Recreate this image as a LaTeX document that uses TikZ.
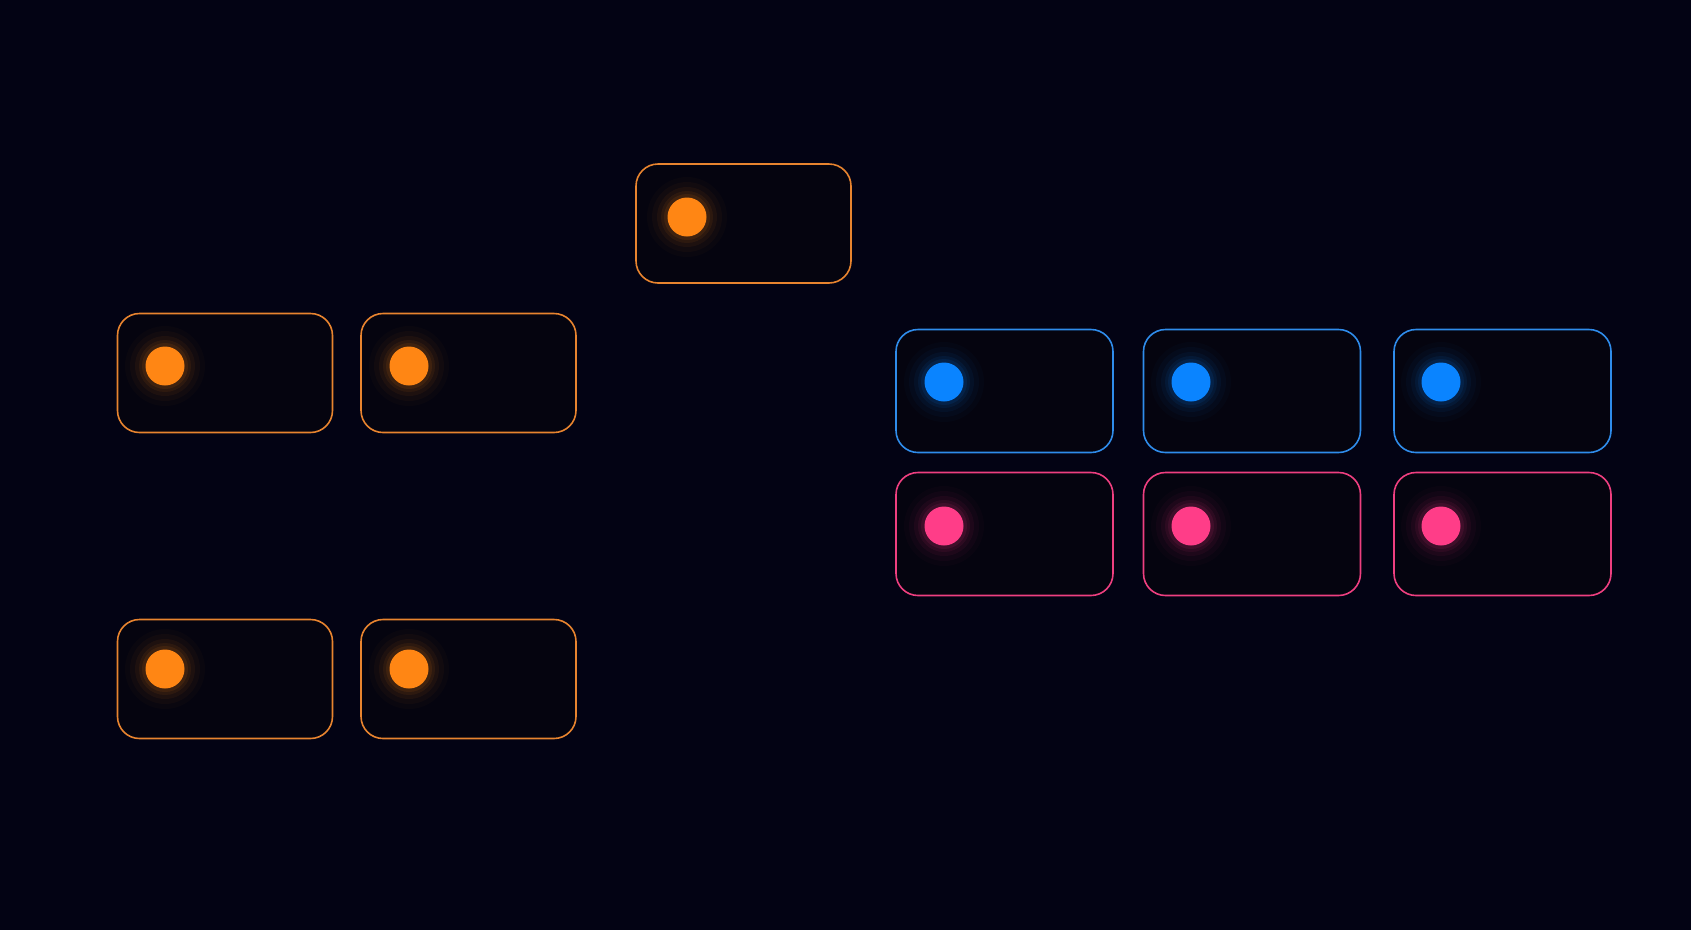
\documentclass[tikz,border=0pt]{standalone}
\begin{document}
\begin{tikzpicture}[x=1pt,y=-1pt]
\definecolor{bg}{HTML}{030314}
\definecolor{boxfill}{HTML}{05040F}
\definecolor{orEdge}{HTML}{E8842F}
\definecolor{orDot}{HTML}{FF8614}
\definecolor{blEdge}{HTML}{2F8CEB}
\definecolor{blDot}{HTML}{0A84FF}
\definecolor{pkEdge}{HTML}{EE3F80}
\definecolor{pkDot}{HTML}{FF3D88}
\tikzset{
  card/.style={draw=#1, line width=1.6pt, fill=boxfill, rounded corners=22pt, inner sep=0pt},
  orcard/.style={card=orEdge, minimum width=215pt, minimum height=119pt},
  rowcard/.style={card=#1, minimum width=217pt, minimum height=123pt},
  dotnode/.style={circle, fill=#1, minimum size=39pt, inner sep=0pt},
}
\newcommand{\glowdot}[3]{%
  \foreach \r/\o in {40/0.025,35/0.035,30/0.05,26/0.07,23/0.09}{
    \fill[#1, opacity=\o] (#3) circle (\r pt);
  }
  \node[dotnode=#1] (#2) at (#3) {};
}
\fill[bg] (0,0) rectangle (1691,930);
\useasboundingbox (0,0) rectangle (1691,930);

% orange cards
\node[orcard] (top) at (743.5,223.5) {};
\node[orcard] (l1) at (225,373) {};
\node[orcard] (l2) at (468.5,373) {};
\node[orcard] (l3) at (225,679) {};
\node[orcard] (l4) at (468.5,679) {};
% blue cards
\node[rowcard=blEdge] (b1) at (1004.5,391) {};
\node[rowcard=blEdge] (b2) at (1252,391) {};
\node[rowcard=blEdge] (b3) at (1502.5,391) {};
% pink cards
\node[rowcard=pkEdge] (p1) at (1004.5,534) {};
\node[rowcard=pkEdge] (p2) at (1252,534) {};
\node[rowcard=pkEdge] (p3) at (1502.5,534) {};

% dots
\glowdot{orDot}{dtop}{687,217}
\glowdot{orDot}{dl1}{165,366}
\glowdot{orDot}{dl2}{409,366}
\glowdot{orDot}{dl3}{165,669}
\glowdot{orDot}{dl4}{409,669}
\glowdot{blDot}{db1}{944,382}
\glowdot{blDot}{db2}{1191,382}
\glowdot{blDot}{db3}{1441,382}
\glowdot{pkDot}{dp1}{944,526}
\glowdot{pkDot}{dp2}{1191,526}
\glowdot{pkDot}{dp3}{1441,526}
\end{tikzpicture}
\end{document}
